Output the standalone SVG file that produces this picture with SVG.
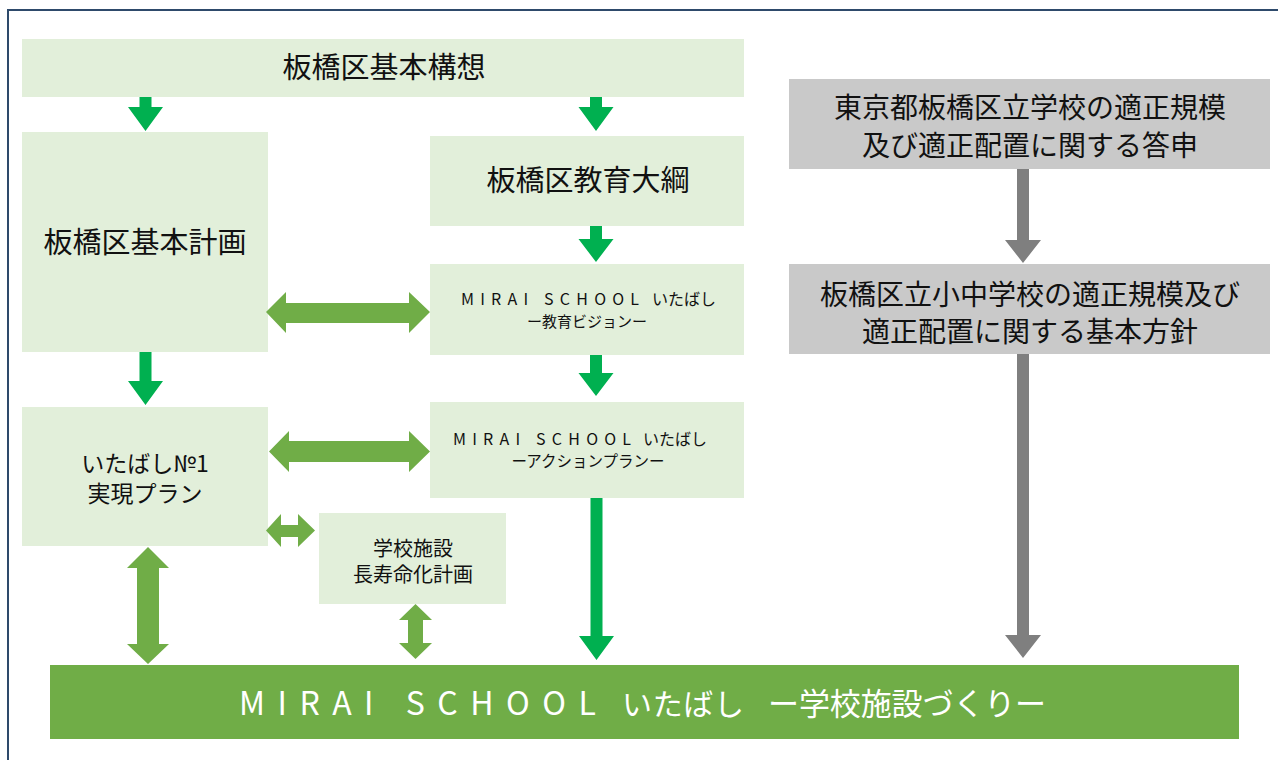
<svg xmlns="http://www.w3.org/2000/svg" width="1278" height="760" viewBox="0 0 1278 760">
<style>
.box{fill:#e2efda}
.grey{fill:#c9c9c9}
.t{font-family:"Noto Sans CJK JP","Noto Sans",sans-serif;fill:#111;text-anchor:middle}
.w{font-family:"Noto Sans CJK JP","Noto Sans",sans-serif;fill:#fff}
.g{fill:#00b050}
.o{fill:#70ad47}
.d{fill:#7f7f7f}
</style>
<rect x="0" y="0" width="1278" height="760" fill="#fff"/>
<rect x="8" y="10" width="1300" height="800" fill="none" stroke="#2e4a6b" stroke-width="2"/>
<g id="kihon-koso"><rect class="box" x="22" y="39" width="722" height="58"/><text class="t" x="384" y="78" font-size="29">板橋区基本構想</text></g>
<g id="kihon-keikaku"><rect class="box" x="22" y="132" width="246" height="220"/><text class="t" x="145" y="253" font-size="29">板橋区基本計画</text></g>
<g id="kyoiku-taiko"><rect class="box" x="430" y="136" width="314" height="90"/><text class="t" x="588" y="191" font-size="29">板橋区教育大綱</text></g>
<g id="vision"><rect class="box" x="430" y="264" width="314" height="91"/>
<text class="t" font-size="16"><tspan x="550" y="305" textLength="178" lengthAdjust="spacing">MIRAI SCHOOL</tspan></text>
<text class="t" x="684" y="305" font-size="16">いたばし</text>
<text class="t" x="587" y="327" font-size="15">ー教育ビジョンー</text></g>
<g id="action"><rect class="box" x="430" y="402" width="314" height="96"/>
<text class="t" font-size="16"><tspan x="542" y="445" textLength="178" lengthAdjust="spacing">MIRAI SCHOOL</tspan></text>
<text class="t" x="675" y="445" font-size="16">いたばし</text>
<text class="t" x="588" y="467" font-size="15.5">ーアクションプランー</text></g>
<g id="no1"><rect class="box" x="22" y="407" width="246" height="139"/>
<text class="t" x="145" y="472" font-size="23">いたばし№1</text>
<text class="t" x="145" y="502" font-size="23">実現プラン</text></g>
<g id="shisetsu"><rect class="box" x="319" y="513" width="187" height="91"/>
<text class="t" x="413" y="556" font-size="20">学校施設</text>
<text class="t" x="413" y="582" font-size="20">長寿命化計画</text></g>
<g id="toshin"><rect class="grey" x="789" y="79" width="481" height="90"/>
<text class="t" x="1030" y="118" font-size="28">東京都板橋区立学校の適正規模</text>
<text class="t" x="1030" y="156" font-size="28">及び適正配置に関する答申</text></g>
<g id="hoshin"><rect class="grey" x="789" y="264" width="481" height="90"/>
<text class="t" x="1030" y="305" font-size="28">板橋区立小中学校の適正規模及び</text>
<text class="t" x="1030" y="342" font-size="28">適正配置に関する基本方針</text></g>
<g id="goal"><rect class="o" x="50" y="665" width="1189" height="74"/>
<text class="w" font-size="32"><tspan x="239" y="715" textLength="357" lengthAdjust="spacing">MIRAI SCHOOL</tspan></text>
<text class="w" font-size="30" x="622" y="715" textLength="122" lengthAdjust="spacing">いたばし</text>
<text class="w" font-size="31" x="768" y="715" textLength="278" lengthAdjust="spacing">ー学校施設づくりー</text></g>
<g id="connectors">
<polygon class="g" points="139.5,97 151.5,97 151.5,107 163,107 145.5,131 128,107 139.5,107"/>
<polygon class="g" points="590,97 602,97 602,107 613.5,107 596,131 578.5,107 590,107"/>
<polygon class="g" points="590,226 602,226 602,239 613.5,239 596,262 578.5,239 590,239"/>
<polygon class="g" points="590,355 602,355 602,373 613.5,373 596,396 578.5,373 590,373"/>
<polygon class="g" points="139.5,352 151.5,352 151.5,381 163,381 145.5,405 128,381 139.5,381"/>
<polygon class="g" points="590.5,498 602.5,498 602.5,636 614,636 596.5,660 579,636 590.5,636"/>
<polygon class="d" points="1017,169 1029,169 1029,240 1041,240 1023,263 1005,240 1017,240"/>
<polygon class="d" points="1017,354 1029,354 1029,635 1041,635 1023,658 1005,635 1017,635"/>
<polygon class="o" points="266,312 286,292 286,303 409,303 409,292 430,312 409,333 409,323 286,323 286,333"/>
<polygon class="o" points="269,451.5 289,431 289,441 409,441 409,431 430,451.5 409,472 409,462 289,462 289,472"/>
<polygon class="o" points="266,530.5 281,514 281,525 298,525 298,514 315,530.5 298,547 298,537 281,537 281,547"/>
<polygon class="o" points="415.5,604 432,620 423,620 423,643 432,643 415.5,659 399,643 408,643 408,620 399,620"/>
<polygon class="o" points="148,547 169,568 159,568 159,644 169,644 148,664 127,644 137,644 137,568 127,568"/>
</g>
</svg>
